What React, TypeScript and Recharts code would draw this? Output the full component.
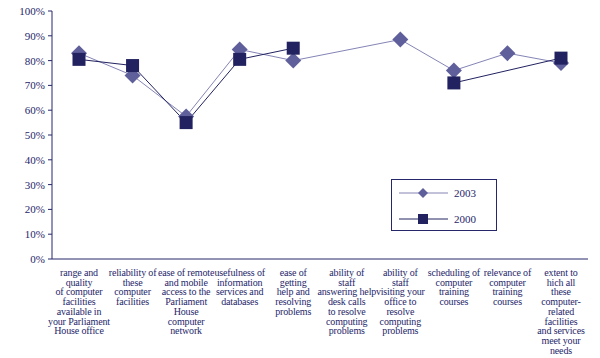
import { Line, LineChart, XAxis, YAxis } from "recharts";

const categories = [
  "range and\nquality\nof computer\nfacilities\navailable in\nyour Parliament\nHouse office",
  "reliability of\nthese\ncomputer\nfacilities",
  "ease of remote\nand mobile\naccess to the\nParliament\nHouse\ncomputer\nnetwork",
  "usefulness of\ninformation\nservices and\ndatabases",
  "ease of\ngetting\nhelp and\nresolving\nproblems",
  "ability of\nstaff\nanswering help\ndesk calls\nto resolve\ncomputing\nproblems",
  "ability of\nstaff\nvisiting your\noffice to\nresolve\ncomputing\nproblems",
  "scheduling of\ncomputer\ntraining\ncourses",
  "relevance of\ncomputer\ntraining\ncourses",
  "extent to\nhich all\nthese\ncomputer-\nrelated\nfacilities\nand services\nmeet your\nneeds",
];

const values2003 = [83, 74, 57.5, 84.5, 80, null, 88.5, 76, 83, 79];
const values2000 = [80.5, 78, 55, 80.5, 85, null, null, 71, null, 81];

const yTicks = [0, 10, 20, 30, 40, 50, 60, 70, 80, 90, 100];
const boundaryTicks = [0, 1, 2, 3, 4, 5, 6, 7, 8, 9, 10];

const NAVY = "#26266a";
const C2003 = "#5f5f9b";
const C2003_LINE = "#8484b6";
const C2000 = "#222260";
const FONT = "'Liberation Serif', 'DejaVu Serif', serif";

// the 2000 series breaks after "ease of getting help" but bridges the gap at "relevance"
const data = categories.map((name, i) => ({
  name,
  y2003: values2003[i],
  y2000a: i <= 4 ? values2000[i] : null,
  y2000b: i >= 7 ? values2000[i] : null,
}));

function Diamond(props: any) {
  const { cx, cy } = props;
  if (cx == null || cy == null) return <g />;
  const r = 8;
  return (
    <polygon
      points={`${cx},${cy - r} ${cx + r},${cy} ${cx},${cy + r} ${cx - r},${cy}`}
      fill={C2003}
    />
  );
}

function Square(props: any) {
  const { cx, cy } = props;
  if (cx == null || cy == null) return <g />;
  const s = 13;
  return <rect x={cx - s / 2} y={cy - s / 2} width={s} height={s} fill={C2000} />;
}

function CategoryTick(props: any) {
  const { x, y, payload } = props;
  const lines = String(payload.value).split("\n");
  return (
    <text
      x={x}
      y={y + 5}
      textAnchor="middle"
      fill={NAVY}
      fontSize={10}
      letterSpacing={-0.15}
      fontFamily={FONT}
    >
      {lines.map((l, i) => (
        <tspan key={i} x={x} dy={i === 0 ? 0 : 9.7}>
          {l}
        </tspan>
      ))}
    </text>
  );
}

function LegendBox() {
  return (
    <div
      style={{
        position: "absolute",
        left: 391,
        top: 179,
        width: 106,
        height: 52,
        border: `1px solid ${NAVY}`,
        background: "#fff",
        boxSizing: "border-box",
      }}
    >
      <svg width={104} height={50} style={{ display: "block" }}>
        <line x1={7} x2={56} y1={13} y2={13} stroke={C2003_LINE} strokeWidth={1} />
        <polygon points="31,8 36,13 31,18 26,13" fill={C2003} />
        <text x={62} y={17} fontSize={11} fill={NAVY} fontFamily={FONT}>
          2003
        </text>
        <line x1={7} x2={56} y1={39} y2={39} stroke={C2000} strokeWidth={1} />
        <rect x={26} y={34} width={10} height={10} fill={C2000} />
        <text x={62} y={43} fontSize={11} fill={NAVY} fontFamily={FONT}>
          2000
        </text>
      </svg>
    </div>
  );
}

export default function App() {
  return (
    <div style={{ position: "absolute", left: 0, top: 0, width: 600, height: 358, background: "#fff" }}>
      <LineChart
        width={600}
        height={358}
        data={data}
        margin={{ top: 11, right: 12, left: 0, bottom: 0 }}
      >
        <XAxis
          xAxisId="bounds"
          type="number"
          domain={[0, 10]}
          ticks={boundaryTicks}
          tick={false}
          tickSize={3}
          height={4}
          stroke={NAVY}
          allowDataOverflow
        />
        <XAxis
          xAxisId="cat"
          dataKey="name"
          interval={0}
          axisLine={false}
          tickLine={false}
          height={95}
          padding={{ left: 27, right: 27 }}
          tick={<CategoryTick />}
        />
        <YAxis
          domain={[0, 100]}
          ticks={yTicks}
          width={52}
          tickSize={4}
          tickMargin={3}
          stroke={NAVY}
          tickFormatter={(v: number) => `${v}%`}
          tick={{ fontSize: 11, fill: NAVY, fontFamily: FONT }}
        />
        <Line
          xAxisId="cat"
          dataKey="y2003"
          stroke={C2003_LINE}
          strokeWidth={1}
          dot={<Diamond />}
          activeDot={false}
          connectNulls
          isAnimationActive={false}
        />
        <Line
          xAxisId="cat"
          dataKey="y2000a"
          stroke={C2000}
          strokeWidth={1}
          dot={<Square />}
          activeDot={false}
          isAnimationActive={false}
        />
        <Line
          xAxisId="cat"
          dataKey="y2000b"
          stroke={C2000}
          strokeWidth={1}
          dot={<Square />}
          activeDot={false}
          connectNulls
          isAnimationActive={false}
        />
      </LineChart>
      <LegendBox />
    </div>
  );
}
